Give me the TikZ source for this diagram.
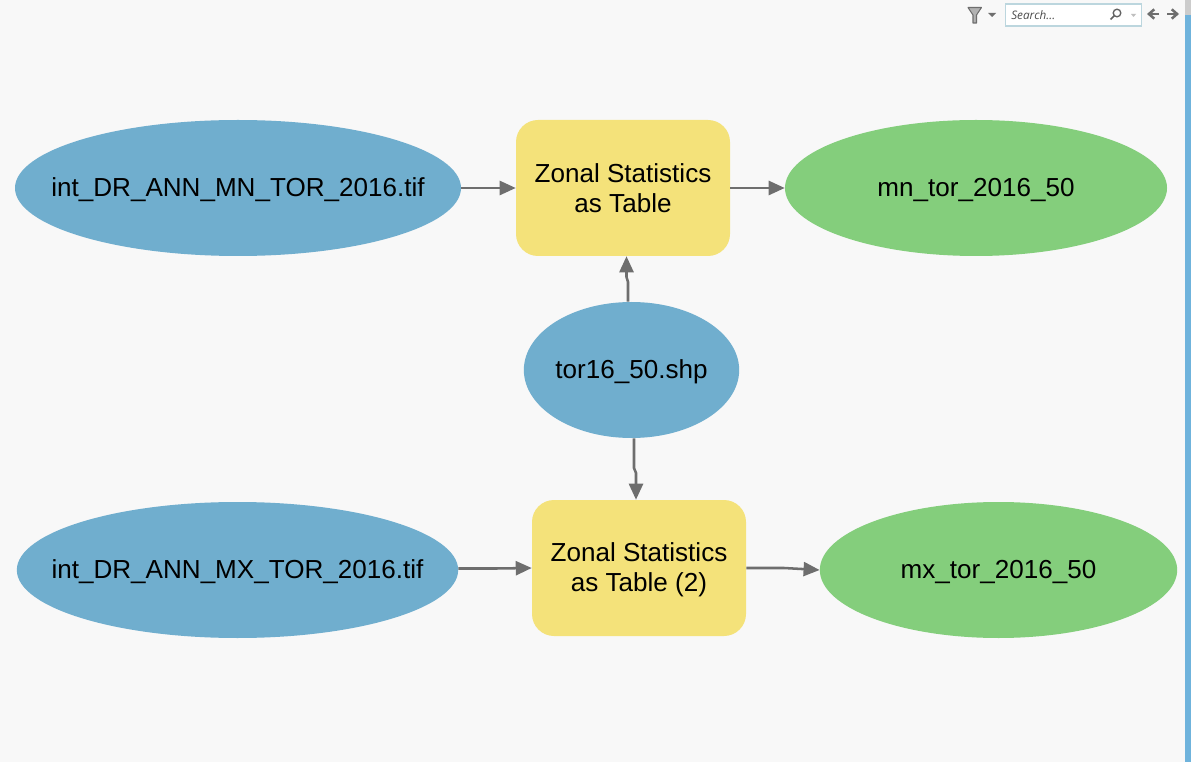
\documentclass[tikz,border=0pt]{standalone}
\usepackage{fontspec}
\setmainfont{Liberation Sans}
\newfontfamily\uifont{Open Sans}
\usetikzlibrary{shapes.geometric,arrows.meta}
\definecolor{pagebg}{HTML}{F8F8F8}
\definecolor{inblue}{HTML}{70AECE}
\definecolor{toolyel}{HTML}{F4E27A}
\definecolor{outgrn}{HTML}{84CE7C}
\definecolor{wire}{HTML}{6E6E6E}
\definecolor{boxedge}{HTML}{BCD6DE}
\definecolor{scroll}{HTML}{6FB3DC}
\tikzset{
  x=0.75pt,y=-0.75pt,
  lab/.style={font=\fontsize{19.55pt}{22.5pt}\selectfont,align=center,text=black,inner sep=0pt},
  txt/.style={label={[lab,yshift=-1.5pt]center:{#1}}},
  inp/.style={ellipse,fill=inblue,inner sep=0pt},
  outp/.style={ellipse,fill=outgrn,inner sep=0pt},
  tool/.style={rectangle,rounded corners=16.5pt,fill=toolyel,inner sep=0pt,minimum width=160.5pt,minimum height=102pt},
  conn/.style={draw=wire,line width=1.9pt,-{Triangle[length=12pt,width=10.5pt]}},
  icon/.style={draw=wire,line width=1.9pt},
}
\begin{document}
\begin{tikzpicture}
\useasboundingbox (0,0) rectangle (1191,762);
\fill[pagebg] (0,0) rectangle (1191,762);
\fill[black!20] (1185,0) rectangle (1191,15);
\fill[scroll] (1185,15) rectangle (1191,762);
% nodes
\node[inp,minimum width=334.5pt,minimum height=102pt,txt={int\_DR\_ANN\_MN\_TOR\_2016.tif}] (a1) at (238,188) {};
\node[tool,label={[lab]center:{Zonal Statistics\\as Table}}] (t1) at (623,188) {};
\node[outp,minimum width=286.5pt,minimum height=102pt,txt={mn\_tor\_2016\_50}] (o1) at (976,188) {};
\node[inp,minimum width=161.5pt,minimum height=102pt,txt={tor16\_50.shp}] (s) at (631.5,370) {};
\node[inp,minimum width=331pt,minimum height=102pt,txt={int\_DR\_ANN\_MX\_TOR\_2016.tif}] (a2) at (237.5,570) {};
\node[tool,txt={Zonal Statistics\\as Table (2)}] (t2) at (639,568) {};
\node[outp,minimum width=268pt,minimum height=102pt,txt={mx\_tor\_2016\_50}] (o2) at (998.5,570) {};
% connectors
\draw[conn] (a1.east) -- (t1.west);
\draw[conn] (t1.east) -- (o1.west);
\coordinate (u1) at (628,282);
\coordinate (u2) at (626.5,277);
\draw[conn] (u1 |- s.north) -- (u1) -- (u2) -- (u2 |- t1.south);
\coordinate (d1) at (634,468);
\coordinate (d2) at (636,473);
\draw[conn] (d1 |- s.south) -- (d1) -- (d2) -- (d2 |- t2.north);
\coordinate (m1) at (496,568.5);
\draw[conn] (a2.east |- m1) -- (m1) -- (t2.west);
\coordinate (j1) at (784,568);
\draw[conn] (t2.east) -- (j1) -- (o2.west);
% toolbar
\filldraw[fill=black!30,draw=wire,line width=0.8pt,line join=round] (968,7.5) -- (981.5,7.5) -- (976.5,15) -- (976.5,23) -- (973,23) -- (973,15) -- cycle;
\fill[wire] (988,13) -- (996,13) -- (992,17) -- cycle;
\node[draw=boxedge,fill=white,line width=0.8pt,minimum width=102.5pt,minimum height=16.5pt,inner sep=0pt] (sb) at (1073.5,15) {};
\node[anchor=west,inner sep=0pt,font=\uifont\itshape\fontsize{8.8pt}{10pt}\selectfont,text=black!70] (st) at (1011,15.5) {Search...};
\draw[wire!90!black,line width=1pt] (1117,13) circle (3.8);
\draw[wire!90!black,line width=1.3pt] (1114.5,15.5) -- (1110.5,19.5);
\fill[black!25] (1131,14) -- (1136,14) -- (1133.5,17) -- cycle;
\draw[icon,-{Straight Barb[length=4pt,width=7pt]}] (1159,14) -- (1147,14);
\draw[icon,-{Straight Barb[length=4pt,width=7pt]}] (1167,14) -- (1179,14);
\end{tikzpicture}
\end{document}
